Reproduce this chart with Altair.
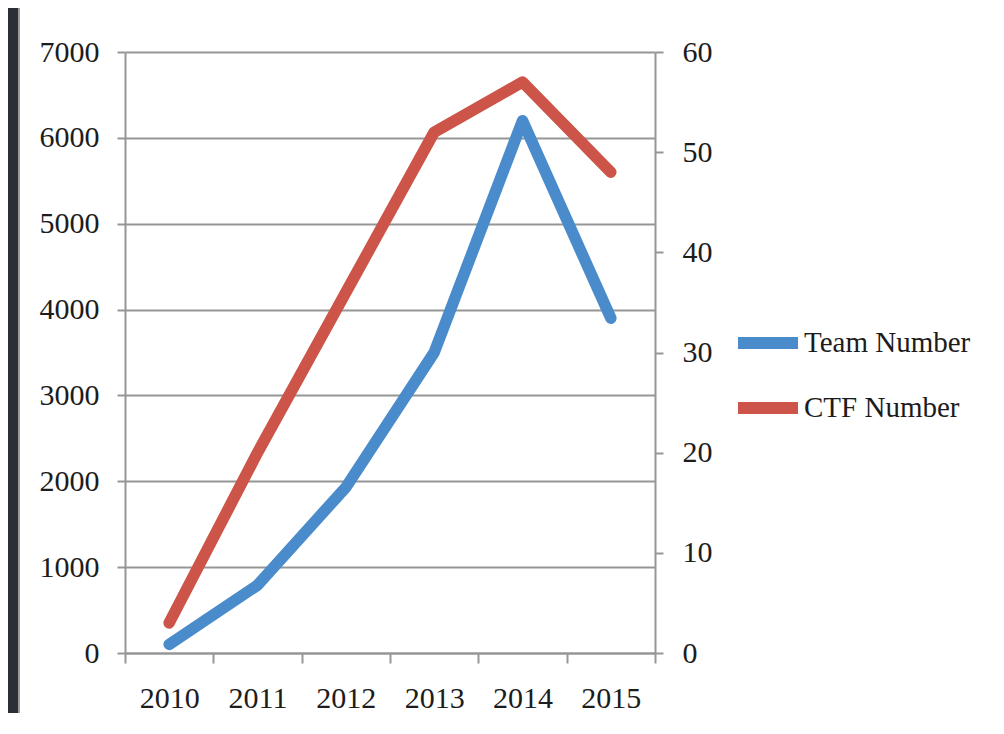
import altair as alt
import pandas as pd

years = ["2010", "2011", "2012", "2013", "2014", "2015"]
team_number = [100, 790, 1930, 3500, 6200, 3900]
ctf_number = [3, 20, 36, 52, 57, 48]
series_names = ["Team Number", "CTF Number"]
series_colors = ["#4a8ccb", "#cd5448"]
left_ticks = [0, 1000, 2000, 3000, 4000, 5000, 6000, 7000]
right_ticks = [0, 10, 20, 30, 40, 50, 60]

df = pd.DataFrame({"year": years, "team": team_number, "ctf": ctf_number})

FONT = "Liberation Serif"
GRAY = "#969696"
TXT = "#1c1c1c"

xenc = alt.X(
    "year:N",
    bandPosition=0.5,
    scale=alt.Scale(type="band", paddingInner=0, paddingOuter=0),
    axis=alt.Axis(
        title=None, tickBand="extent", labelAngle=0, labelFont=FONT, labelFontSize=30,
        labelColor=TXT, labelPadding=20, tickSize=10, tickWidth=2, tickColor=GRAY,
        domainColor=GRAY, domainWidth=2, grid=False,
    ),
)

color_scale = alt.Scale(domain=series_names, range=series_colors)
legend = alt.Legend(
    title=None, orient="none", legendX=607, legendY=255, symbolType="stroke",
    symbolSize=3600, symbolStrokeWidth=12, labelFont=FONT, labelFontSize=29,
    labelColor=TXT, labelOffset=0, rowPadding=5, padding=0, labelLimit=400,
)
color_enc = alt.Color("series:N", scale=color_scale, legend=legend)

base = alt.Chart(df)

team_line = base.transform_calculate(series="'Team Number'").mark_line(
    strokeWidth=11.5, strokeCap="round", strokeJoin="round"
).encode(
    x=xenc,
    y=alt.Y(
        "team:Q",
        scale=alt.Scale(domain=[0, 7000], nice=False),
        axis=alt.Axis(
            title=None, values=left_ticks, format="d", grid=True, gridColor=GRAY,
            gridWidth=2, gridOpacity=1, labelFont=FONT, labelFontSize=30,
            labelColor=TXT, labelPadding=18, tickSize=8, tickWidth=2,
            tickColor=GRAY, domainColor=GRAY, domainWidth=2,
        ),
    ),
    color=color_enc,
)

ctf_line = base.transform_calculate(series="'CTF Number'").mark_line(
    strokeWidth=11.5, strokeCap="round", strokeJoin="round"
).encode(
    x=xenc,
    y=alt.Y(
        "ctf:Q",
        scale=alt.Scale(domain=[0, 60], nice=False),
        axis=alt.Axis(
            title=None, orient="right", values=right_ticks, format="d", grid=False,
            labelFont=FONT, labelFontSize=30, labelColor=TXT, labelPadding=19,
            tickSize=8, tickWidth=2, tickColor=GRAY, domainColor=GRAY, domainWidth=2,
        ),
    ),
    color=color_enc,
)

frame_df = pd.DataFrame({"a": [0]})
dark_strip = alt.Chart(frame_df).mark_rect(color="#2b2e35").encode(
    x=alt.value(-117), x2=alt.value(-107), y=alt.value(-44), y2=alt.value(700)
)
edge_line = alt.Chart(frame_df).mark_rule(color="#9a9a9a", strokeWidth=2).encode(
    x=alt.value(-106), y=alt.value(-44), y2=alt.value(700)
)

chart = (
    alt.layer(dark_strip, edge_line, team_line, ctf_line)
    .resolve_scale(y="independent")
    .properties(
        width=530, height=601,
        padding={"left": 117, "top": 44, "right": 330, "bottom": 60},
        autosize=alt.AutoSizeParams(type="none"),
        background="white",
    )
    .configure_view(stroke=None)
)

chart.save("out.html", embed_options={"renderer": "svg", "actions": False})
